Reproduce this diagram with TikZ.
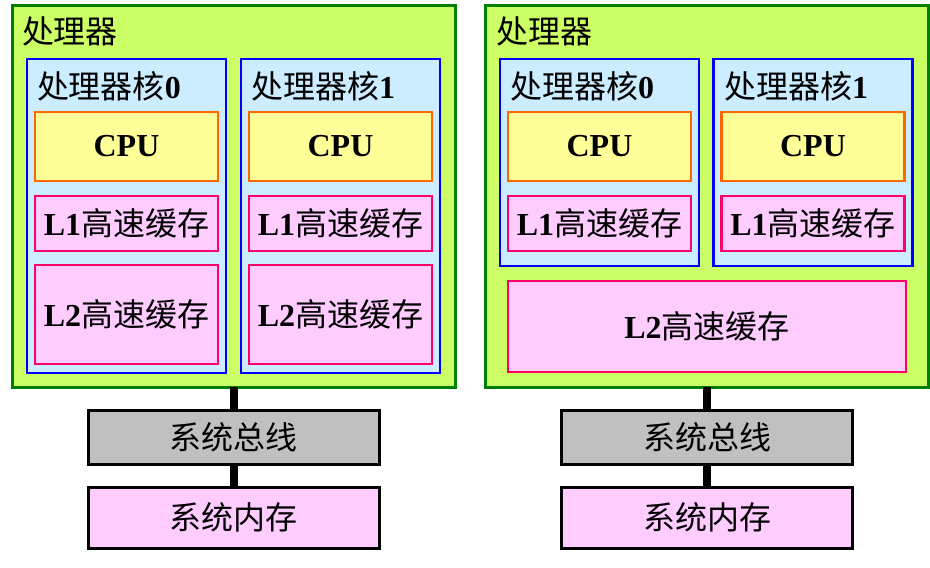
\documentclass[tikz,border=0pt]{standalone}
\usepackage{fontspec}
\setmainfont{Liberation Serif}
\newfontfamily\cjk{Noto Sans CJK SC}
\definecolor{procfill}{HTML}{CCFF66}
\definecolor{procline}{HTML}{008000}
\definecolor{corefill}{HTML}{CCECFF}
\definecolor{coreline}{HTML}{0000FF}
\definecolor{cpufill}{HTML}{FFFF99}
\definecolor{cpuline}{HTML}{FF6600}
\definecolor{cachefill}{HTML}{FFCCFF}
\definecolor{cacheline}{HTML}{FF0066}
\definecolor{busfill}{HTML}{C0C0C0}
\tikzset{
  every node/.style={inner sep=0pt, outer sep=0pt, font=\fontsize{32}{35}\selectfont},
  procbox/.style={draw=procline, fill=procfill, line width=3pt, minimum width=443pt, minimum height=382pt},
  corebox/.style={draw=coreline, fill=corefill, line width=2.5pt, minimum width=199pt},
  cpubox/.style={draw=cpuline, fill=cpufill, line width=2.8pt, minimum width=183pt, minimum height=69pt},
  cachebox/.style={draw=cacheline, fill=cachefill, line width=2.8pt, minimum width=183pt},
  busbox/.style={draw=black, fill=busfill, line width=3pt, minimum width=291pt, minimum height=54pt},
  membox/.style={draw=black, fill=cachefill, line width=3pt, minimum width=291pt, minimum height=61pt},
  link/.style={draw=black, line width=8pt},
  title/.style={anchor=west}
}
\begin{document}
\begin{tikzpicture}[x=1pt,y=-1pt]
\useasboundingbox (0,0) rectangle (930,568);
% ---------- left processor ----------
\node[procbox] (p1) at (233.5,196) {};
\node[title] (p1t) at (22,31) {\cjk 处理器};
\node[corebox, minimum height=314pt] (c10) at (126.5,216) {};
\node[corebox, minimum height=314pt] (c11) at (340.5,216) {};
\node[title] (c10t) at (37,86) {{\cjk 处理器核}\textbf{0}};
\node[title] (c11t) at (251,86) {{\cjk 处理器核}\textbf{1}};
\node[cpubox] (cpu10) at (126.5,146.5) {\textbf{CPU}};
\node[cpubox] (cpu11) at (340.5,146.5) {\textbf{CPU}};
\node[cachebox, minimum height=55pt] (l110) at (126.5,223.5) {\textbf{L1}{\cjk 高速缓存}};
\node[cachebox, minimum height=55pt] (l111) at (340.5,223.5) {\textbf{L1}{\cjk 高速缓存}};
\node[cachebox, minimum height=99pt] (l210) at (126.5,314.5) {\textbf{L2}{\cjk 高速缓存}};
\node[cachebox, minimum height=99pt] (l211) at (340.5,314.5) {\textbf{L2}{\cjk 高速缓存}};
\node[busbox] (bus1) at (233.5,437) {\cjk 系统总线};
\node[membox] (mem1) at (233.5,517.5) {\cjk 系统内存};
\draw[link] (p1.south) -- (bus1.north);
\draw[link] (bus1.south) -- (mem1.north);
% ---------- right processor ----------
\node[procbox] (p2) at (707,196) {};
\node[title] (p2t) at (496,31) {\cjk 处理器};
\node[corebox, minimum height=207pt] (c20) at (599.5,162.5) {};
\node[corebox, minimum height=207pt] (c21) at (813,162.5) {};
\node[title] (c20t) at (510,86) {{\cjk 处理器核}\textbf{0}};
\node[title] (c21t) at (724,86) {{\cjk 处理器核}\textbf{1}};
\node[cpubox] (cpu20) at (599.5,146.5) {\textbf{CPU}};
\node[cpubox] (cpu21) at (813,146.5) {\textbf{CPU}};
\node[cachebox, minimum height=55pt] (l120) at (599.5,223.5) {\textbf{L1}{\cjk 高速缓存}};
\node[cachebox, minimum height=55pt] (l121) at (813,223.5) {\textbf{L1}{\cjk 高速缓存}};
\node[cachebox, minimum width=398pt, minimum height=91pt] (l22) at (707,326.5) {\textbf{L2}{\cjk 高速缓存}};
\node[busbox] (bus2) at (707,437) {\cjk 系统总线};
\node[membox] (mem2) at (707,517.5) {\cjk 系统内存};
\draw[link] (p2.south) -- (bus2.north);
\draw[link] (bus2.south) -- (mem2.north);
\end{tikzpicture}
\end{document}
